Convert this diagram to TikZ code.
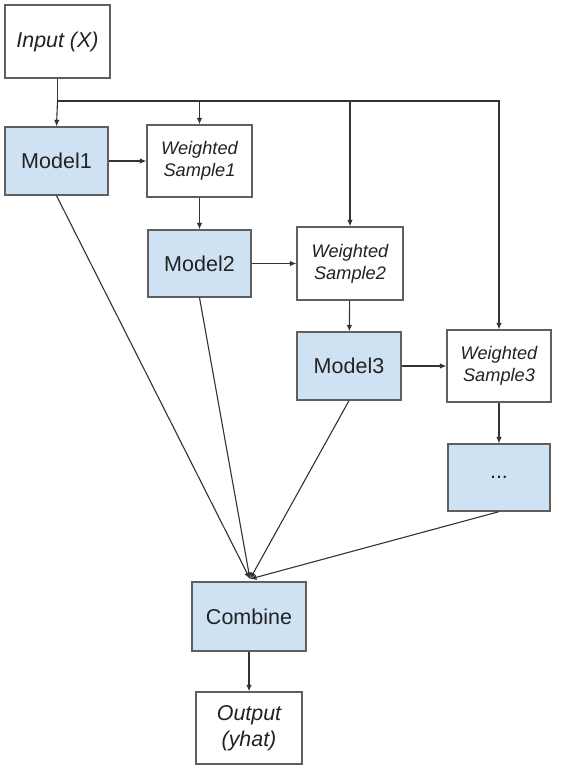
\documentclass[tikz,border=0pt]{standalone}
\usepackage{fontspec}
\setmainfont{Liberation Sans}
\usetikzlibrary{arrows.meta}
\definecolor{boxline}{HTML}{5F5F5F}
\definecolor{boxfill}{HTML}{CFE2F3}
\definecolor{txt}{HTML}{222222}
\definecolor{ln}{HTML}{333333}
\tikzset{
  base/.style={draw=boxline, line width=1.3pt, text=txt, align=center, inner sep=0pt},
  model/.style={base, fill=boxfill, font=\fontsize{21.5}{25}\selectfont},
  wbox/.style={base, fill=white, font=\fontsize{18.2}{22}\selectfont\itshape},
  iobox/.style={base, fill=white, font=\fontsize{21.4}{26}\selectfont\itshape},
  conn/.style={draw=ln, line width=1.1pt},
  arr/.style={conn, -{Latex[length=6.5pt,width=5.5pt]}}
}
\begin{document}
\begin{tikzpicture}[x=1pt,y=-1pt]
\useasboundingbox[fill=white] (0,0) rectangle (562,772);
\node[iobox, minimum width=105pt, minimum height=73pt] (in) at (57.5,41.5) {Input (X)};
\node[model, minimum width=103pt, minimum height=68pt] (m1) at (56.5,161) {Model1};
\node[wbox, minimum width=105pt, minimum height=72pt] (ws1) at (199.5,161) {Weighted\\Sample1};
\node[model, minimum width=103pt, minimum height=67pt] (m2) at (199.5,263.5) {Model2};
\node[wbox, minimum width=106pt, minimum height=73pt] (ws2) at (350,263.5) {Weighted\\Sample2};
\node[model, minimum width=104pt, minimum height=68pt] (m3) at (349,366) {Model3};
\node[wbox, minimum width=104pt, minimum height=72pt] (ws3) at (499,366) {Weighted\\Sample3};
\node[model, minimum width=102pt, minimum height=67pt] (dots) at (499,477.5) {...};
\node[model, minimum width=114pt, minimum height=69pt] (comb) at (249,616.5) {Combine};
\node[iobox, minimum width=106pt, minimum height=72pt] (out) at (249,728) {Output\\(yhat)};
\coordinate (j) at (57.5,101);
\coordinate (c) at (250,579);
% input bus
\draw[conn] (in.south) -- (j);
\draw[arr] (j) -- (m1.north);
\draw[arr] (j) -| (ws3.north);
\draw[arr] (ws1.north |- j) -- (ws1.north);
\draw[arr] (ws2.north |- j) -- (ws2.north);
% chain
\draw[arr] (m1) -- (ws1);
\draw[arr] (ws1) -- (m2);
\draw[arr] (m2) -- (ws2);
\draw[arr] (ws2) -- (m3);
\draw[arr] (m3) -- (ws3);
\draw[arr] (ws3) -- (dots);
% to combine
\draw[arr] (m1.south) -- (c);
\draw[arr] (m2.south) -- (c);
\draw[arr] (m3.south) -- (c);
\draw[arr] (dots.south) -- (c);
\draw[arr] (comb) -- (out);
\end{tikzpicture}
\end{document}
